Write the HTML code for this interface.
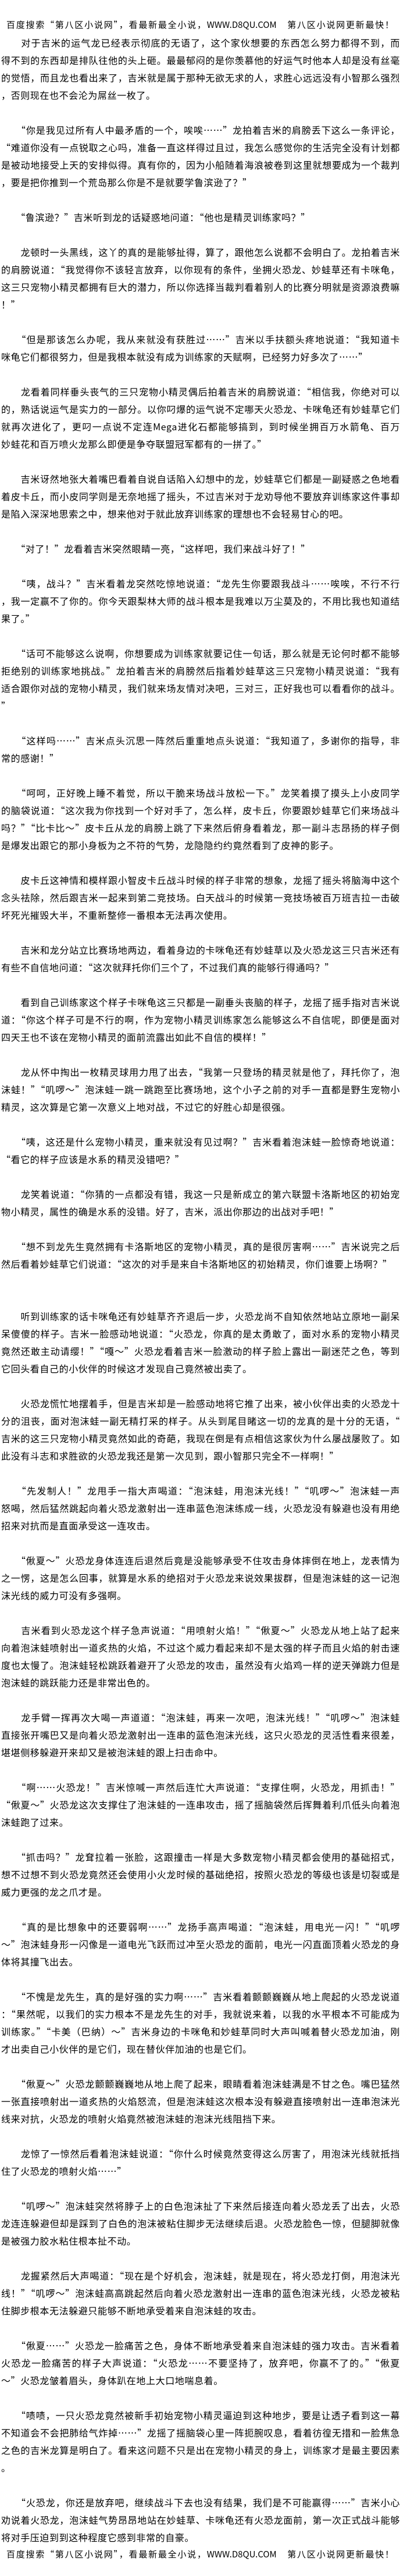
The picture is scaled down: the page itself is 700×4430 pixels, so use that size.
<!DOCTYPE html>
<html lang="zh-CN">
<head>
<meta charset="utf-8">
<style>
html,body{margin:0;padding:0;background:#fff;}
body{width:700px;height:4430px;overflow:hidden;color:#000;
font-family:"Noto Sans CJK SC","WenQuanYi Zen Hei","Liberation Sans",sans-serif;}
.wrap{padding-top:28px;}
.hd{height:30px;line-height:30px;font-size:15px;margin-left:11px;width:666px;white-space:nowrap;text-align:justify;text-align-last:justify;}
.p{margin-bottom:30px;}
.p div{height:30px;line-height:30px;font-size:16px;margin-left:2px;width:686px;white-space:nowrap;overflow:hidden;letter-spacing:0.6px;text-align:justify;text-align-last:justify;}
.p div:last-child{text-align-last:auto;}
.p.last{margin-bottom:0;}
.gap2{margin-bottom:60px;}
</style>
</head>
<body>
<div class="wrap">
<div class="hd">百度搜索“第八区小说网”，看最新最全小说，WWW.D8QU.COM　第八区小说网更新最快！</div>

<div class="p">
<div>　　对于吉米的运气龙已经表示彻底的无语了，这个家伙想要的东西怎么努力都得不到，而</div>
<div>得不到的东西却是排队往他的头上砸。最最郁闷的是你羡慕他的好运气时他本人却是没有丝毫</div>
<div>的觉悟，而且龙也看出来了，吉米就是属于那种无欲无求的人，求胜心远远没有小智那么强烈</div>
<div>，否则现在也不会沦为屌丝一枚了。</div>
</div>

<div class="p">
<div>　　“你是我见过所有人中最矛盾的一个，唉唉……”龙拍着吉米的肩膀丢下这么一条评论，</div>
<div>“难道你没有一点锐取之心吗，准备一直这样得过且过，我怎么感觉你的生活完全没有计划都</div>
<div>是被动地接受上天的安排似得。真有你的，因为小船随着海浪被卷到这里就想要成为一个裁判</div>
<div>，要是把你推到一个荒岛那么你是不是就要学鲁滨逊了？”</div>
</div>

<div class="p">
<div>　　“鲁滨逊？”吉米听到龙的话疑惑地问道：“他也是精灵训练家吗？”</div>
</div>

<div class="p">
<div>　　龙顿时一头黑线，这丫的真的是能够扯得，算了，跟他怎么说都不会明白了。龙拍着吉米</div>
<div>的肩膀说道：“我觉得你不该轻言放弃，以你现有的条件，坐拥火恐龙、妙蛙草还有卡咪龟，</div>
<div>这三只宠物小精灵都拥有巨大的潜力，所以你选择当裁判看着别人的比赛分明就是资源浪费嘛</div>
<div>！”</div>
</div>

<div class="p">
<div>　　“但是那该怎么办呢，我从来就没有获胜过……”吉米以手扶额头疼地说道：“我知道卡</div>
<div>咪龟它们都很努力，但是我根本就没有成为训练家的天赋啊，已经努力好多次了……”</div>
</div>

<div class="p">
<div>　　龙看着同样垂头丧气的三只宠物小精灵偶后拍着吉米的肩膀说道：“相信我，你绝对可以</div>
<div>的，熟话说运气是实力的一部分。以你叼爆的运气说不定哪天火恐龙、卡咪龟还有妙蛙草它们</div>
<div>就再次进化了，更叼一点说不定连Mega进化石都能够搞到，到时候坐拥百万水箭龟、百万</div>
<div>妙蛙花和百万喷火龙那么即便是争夺联盟冠军都有的一拼了。”</div>
</div>

<div class="p">
<div>　　吉米讶然地张大着嘴巴看着自说自话陷入幻想中的龙，妙蛙草它们都是一副疑惑之色地看</div>
<div>着皮卡丘，而小皮同学则是无奈地摇了摇头，不过吉米对于龙劝导他不要放弃训练家这件事却</div>
<div>是陷入深深地思索之中，想来他对于就此放弃训练家的理想也不会轻易甘心的吧。</div>
</div>

<div class="p">
<div>　　“对了！”龙看着吉米突然眼睛一亮，“这样吧，我们来战斗好了！”</div>
</div>

<div class="p">
<div>　　“咦，战斗？”吉米看着龙突然吃惊地说道：“龙先生你要跟我战斗……唉唉，不行不行</div>
<div>，我一定赢不了你的。你今天跟梨林大师的战斗根本是我难以万尘莫及的，不用比我也知道结</div>
<div>果了。”</div>
</div>

<div class="p">
<div>　　“话可不能够这么说啊，你想要成为训练家就要记住一句话，那么就是无论何时都不能够</div>
<div>拒绝别的训练家地挑战。”龙拍着吉米的肩膀然后指着妙蛙草这三只宠物小精灵说道：“我有</div>
<div>适合跟你对战的宠物小精灵，我们就来场友情对决吧，三对三，正好我也可以看看你的战斗。</div>
<div>”</div>
</div>

<div class="p">
<div>　　“这样吗……”吉米点头沉思一阵然后重重地点头说道：“我知道了，多谢你的指导，非</div>
<div>常的感谢！”</div>
</div>

<div class="p">
<div>　　“呵呵，正好晚上睡不着觉，所以干脆来场战斗放松一下。”龙笑着摸了摸头上小皮同学</div>
<div>的脑袋说道：“这次我为你找到一个好对手了，怎么样，皮卡丘，你要跟妙蛙草它们来场战斗</div>
<div>吗？”“比卡比～”皮卡丘从龙的肩膀上跳了下来然后俯身看着龙，那一副斗志昂扬的样子倒</div>
<div>是爆发出跟它的那小身板为之不符的气势，龙隐隐约约竟然看到了皮神的影子。</div>
</div>

<div class="p">
<div>　　皮卡丘这神情和模样跟小智皮卡丘战斗时候的样子非常的想象，龙摇了摇头将脑海中这个</div>
<div>念头祛除，然后跟吉米一起来到第二竞技场。白天战斗的时候第一竞技场被百万班吉拉一击破</div>
<div>坏死光摧毁大半，不重新整修一番根本无法再次使用。</div>
</div>

<div class="p">
<div>　　吉米和龙分站立比赛场地两边，看着身边的卡咪龟还有妙蛙草以及火恐龙这三只吉米还有</div>
<div>有些不自信地问道：“这次就拜托你们三个了，不过我们真的能够行得通吗？”</div>
</div>

<div class="p">
<div>　　看到自己训练家这个样子卡咪龟这三只都是一副垂头丧脑的样子，龙摇了摇手指对吉米说</div>
<div>道：“你这个样子可是不行的啊，作为宠物小精灵训练家怎么能够这么不自信呢，即便是面对</div>
<div>四天王也不该在宠物小精灵的面前流露出如此不自信的模样！”</div>
</div>

<div class="p">
<div>　　龙从怀中掏出一枚精灵球用力甩了出去，“我第一只登场的精灵就是他了，拜托你了，泡</div>
<div>沫蛙！”“叽啰～”泡沫蛙一跳一跳跑至比赛场地，这个小子之前的对手一直都是野生宠物小</div>
<div>精灵，这次算是它第一次意义上地对战，不过它的好胜心却是很强。</div>
</div>

<div class="p">
<div>　　“咦，这还是什么宠物小精灵，重来就没有见过啊？”吉米看着泡沫蛙一脸惊奇地说道：</div>
<div>“看它的样子应该是水系的精灵没错吧？”</div>
</div>

<div class="p">
<div>　　龙笑着说道：“你猜的一点都没有错，我这一只是新成立的第六联盟卡洛斯地区的初始宠</div>
<div>物小精灵，属性的确是水系的没错。好了，吉米，派出你那边的出战对手吧！”</div>
</div>

<div class="p gap2">
<div>　　“想不到龙先生竟然拥有卡洛斯地区的宠物小精灵，真的是很厉害啊……”吉米说完之后</div>
<div>然后看着妙蛙草它们说道：“这次的对手是来自卡洛斯地区的初始精灵，你们谁要上场啊？”</div>
</div>

<div class="p">
<div>　　听到训练家的话卡咪龟还有妙蛙草齐齐退后一步，火恐龙尚不自知依然地站立原地一副呆</div>
<div>呆傻傻的样子。吉米一脸感动地说道：“火恐龙，你真的是太勇敢了，面对水系的宠物小精灵</div>
<div>竟然还敢主动请缨！”“嘎～”火恐龙看着吉米一脸激动的样子脸上露出一副迷茫之色，等到</div>
<div>它回头看自己的小伙伴的时候这才发现自己竟然被出卖了。</div>
</div>

<div class="p">
<div>　　火恐龙慌忙地摆着手，但是吉米却是一脸感动地将它推了出来，被小伙伴出卖的火恐龙十</div>
<div>分的沮丧，面对泡沫蛙一副无精打采的样子。从头到尾目睹这一切的龙真的是十分的无语，“</div>
<div>吉米的这三只宠物小精灵竟然如此的奇葩，我现在倒是有点相信这家伙为什么屡战屡败了。如</div>
<div>此没有斗志和求胜欲的火恐龙我还是第一次见到，跟小智那只完全不一样啊！”</div>
</div>

<div class="p">
<div>　　“先发制人！”龙甩手一指大声喝道：“泡沫蛙，用泡沫光线！”“叽啰～”泡沫蛙一声</div>
<div>怒喝，然后猛然跳起向着火恐龙激射出一连串蓝色泡沫练成一线，火恐龙没有躲避也没有用绝</div>
<div>招来对抗而是直面承受这一连攻击。</div>
</div>

<div class="p">
<div>　　“偢夏～”火恐龙身体连连后退然后竟是没能够承受不住攻击身体摔倒在地上，龙表情为</div>
<div>之一愣，这是怎么回事，就算是水系的绝招对于火恐龙来说效果拔群，但是泡沫蛙的这一记泡</div>
<div>沫光线的威力可没有多强啊。</div>
</div>

<div class="p">
<div>　　吉米看到火恐龙这个样子急声说道：“用喷射火焰！”“偢夏～”火恐龙从地上站了起来</div>
<div>向着泡沫蛙喷射出一道炙热的火焰，不过这个威力看起来却不是太强的样子而且火焰的射击速</div>
<div>度也太慢了。泡沫蛙轻松跳跃着避开了火恐龙的攻击，虽然没有火焰鸡一样的逆天弹跳力但是</div>
<div>泡沫蛙的跳跃能力还是非常出色的。</div>
</div>

<div class="p">
<div>　　龙手臂一挥再次大喝一声道道：“泡沫蛙，再来一次吧，泡沫光线！”“叽啰～”泡沫蛙</div>
<div>直接张开嘴巴又是向着火恐龙激射出一连串的蓝色泡沫光线，这只火恐龙的灵活性看来很差，</div>
<div>堪堪侧移躲避开来却又是被泡沫蛙的跟上扫击命中。</div>
</div>

<div class="p">
<div>　　“啊……火恐龙！”吉米惊喊一声然后连忙大声说道：“支撑住啊，火恐龙，用抓击！”</div>
<div>“偢夏～”火恐龙这次支撑住了泡沫蛙的一连串攻击，摇了摇脑袋然后挥舞着利爪低头向着泡</div>
<div>沫蛙跑了过来。</div>
</div>

<div class="p">
<div>　　“抓击吗？”龙耷拉着一张脸，这跟撞击一样是大多数宠物小精灵都会使用的基础招式，</div>
<div>想不过想不到火恐龙竟然还会使用小火龙时候的基础绝招，按照火恐龙的等级也该是切裂或是</div>
<div>威力更强的龙之爪才是。</div>
</div>

<div class="p">
<div>　　“真的是比想象中的还要弱啊……”龙扬手高声喝道：“泡沫蛙，用电光一闪！”“叽啰</div>
<div>～”泡沫蛙身形一闪像是一道电光飞跃而过冲至火恐龙的面前，电光一闪直面顶着火恐龙的身</div>
<div>体将其撞飞出去。</div>
</div>

<div class="p">
<div>　　“不愧是龙先生，真的是好强的实力啊……”吉米看着颤颤巍巍从地上爬起的火恐龙说道</div>
<div>：“果然呢，以我们的实力根本不是龙先生的对手，我就说来着，以我的水平根本不可能成为</div>
<div>训练家。”“卡美（巴纳）～”吉米身边的卡咪龟和妙蛙草同时大声叫喊着替火恐龙加油，刚</div>
<div>才出卖自己小伙伴的是它们，现在替伙伴加油的也是它们。</div>
</div>

<div class="p">
<div>　　“偢夏～”火恐龙颤颤巍巍地从地上爬了起来，眼睛看着泡沫蛙满是不甘之色。嘴巴猛然</div>
<div>一张直接喷射出一道炙热的火焰怒流，但是泡沫蛙这次根本没有躲避直接喷射出一连串泡沫光</div>
<div>线来对抗，火恐龙的喷射火焰竟然被泡沫蛙的泡沫光线阻挡下来。</div>
</div>

<div class="p">
<div>　　龙惊了一惊然后看着泡沫蛙说道：“你什么时候竟然变得这么厉害了，用泡沫光线就抵挡</div>
<div>住了火恐龙的喷射火焰……”</div>
</div>

<div class="p">
<div>　　“叽啰～”泡沫蛙突然将脖子上的白色泡沫扯了下来然后接连向着火恐龙丢了出去，火恐</div>
<div>龙连连躲避但却是踩到了白色的泡沫被粘住脚步无法继续后退。火恐龙脸色一惊，但腿脚就像</div>
<div>是被强力胶水粘住根本扯不动。</div>
</div>

<div class="p">
<div>　　龙握紧然后大声喝道：“现在是个好机会，泡沫蛙，就是现在，将火恐龙打倒，用泡沫光</div>
<div>线！”“叽啰～”泡沫蛙高高跳起然后向着火恐龙激射出一连串的蓝色泡沫光线，火恐龙被粘</div>
<div>住脚步根本无法躲避只能够不断地承受着来自泡沫蛙的攻击。</div>
</div>

<div class="p">
<div>　　“偢夏……”火恐龙一脸痛苦之色，身体不断地承受着来自泡沫蛙的强力攻击。吉米看着</div>
<div>火恐龙一脸痛苦的样子大声说道：“火恐龙……不要坚持了，放弃吧，你赢不了的。”“偢夏</div>
<div>～”火恐龙皱着眉头，身体趴在地上大口地喘息着。</div>
</div>

<div class="p">
<div>　　“啧啧，一只火恐龙竟然被新手初始宠物小精灵逼迫到这种地步，要是让透子看到这一幕</div>
<div>不知道会不会把肺给气炸掉……”龙摇了摇脑袋心里一阵扼腕叹息，看着彷徨无措和一脸焦急</div>
<div>之色的吉米龙算是明白了。看来这问题不只是出在宠物小精灵的身上，训练家才是最主要因素</div>
<div>。</div>
</div>

<div class="p last">
<div>　　“火恐龙，你还是放弃吧，继续战斗下去也没有结果，我们是不可能赢得……”吉米小心</div>
<div>劝说着火恐龙，泡沫蛙气势昂昂地站在妙蛙草、卡咪龟还有火恐龙面前，第一次正式战斗能够</div>
<div>将对手压迫到到这种程度它感到非常的自豪。</div>
</div>

<div class="hd">百度搜索“第八区小说网”，看最新最全小说，WWW.D8QU.COM　第八区小说网更新最快！</div>
</div>
</body>
</html>
